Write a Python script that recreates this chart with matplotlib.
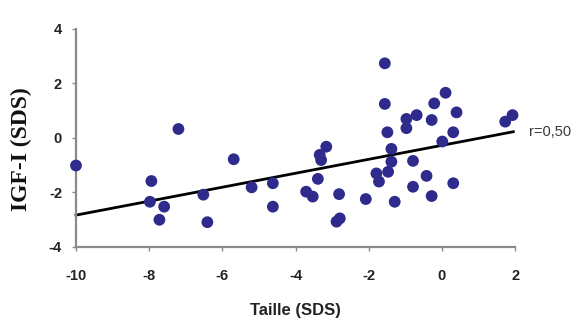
import matplotlib
matplotlib.use("Agg")
import matplotlib.pyplot as plt
import numpy as np

# Data
taille = [-10.0, -7.2, -7.94, -7.98, -7.59, -7.72, -6.52, -6.41, -5.69, -5.2, -4.62, -4.62,
          -1.56, -1.56, -1.49, -1.38, -1.38, -1.47, -1.79, -1.72, -1.29, -2.08, -2.81, -2.79,
          -2.88, -3.16, -3.34, -3.30, -3.39, -3.71, -3.53, -0.97, -0.69, -0.97, -0.28, -0.21,
          0.10, 0.40, 0.31, 0.01, -0.79, -0.42, -0.79, -0.28, 0.31, 1.73, 1.93]
igf = [-1.01, 0.33, -1.58, -2.34, -2.52, -3.0, -2.08, -3.09, -0.78, -1.81, -1.66, -2.52,
       2.74, 1.25, 0.21, -0.40, -0.87, -1.24, -1.30, -1.60, -2.34, -2.24, -2.06, -2.95,
       -3.07, -0.32, -0.62, -0.81, -1.50, -1.97, -2.15, 0.70, 0.84, 0.36, 0.66, 1.27,
       1.66, 0.94, 0.21, -0.13, -0.84, -1.39, -1.79, -2.13, -1.66, 0.60, 0.84]

fit_slope = 0.256
fit_intercept = -0.27
fit_range = [-10.0, 1.95]
r_label = "r=0,50"

xticks = [-10, -8, -6, -4, -2, 0, 2]
yticks = [-4, -2, 0, 2, 4]

fig = plt.figure(figsize=(5.77, 3.25), dpi=100)
ax = fig.add_axes([0.1317, 0.24, 0.761, 0.6708])

ax.scatter(taille, igf, s=72, color="#2E2B8C", edgecolors="none", zorder=3, clip_on=False)
fx = np.array(fit_range)
ax.plot(fx, fit_slope * fx + fit_intercept, color="black", lw=2.0, zorder=2, clip_on=False)
ax.text(fx[-1] + 0.42, fit_slope * fx[-1] + fit_intercept, r_label, fontsize=10.5,
        family="Liberation Sans", color="#3a3a3a", va="center", ha="left", clip_on=False)

ax.set_xlim(-10, 2)
ax.set_ylim(-4, 4)
ax.set_xticks(xticks)
ax.set_yticks(yticks)
ax.set_xticklabels([str(t) for t in xticks], fontsize=10.5, fontweight="bold",
                   family="Liberation Sans", color="#222222")
ax.set_yticklabels([str(t) for t in yticks], fontsize=10.5, fontweight="bold",
                   family="Liberation Sans", color="#222222")

for side in ["top", "right"]:
    ax.spines[side].set_visible(False)
for side in ["left", "bottom"]:
    ax.spines[side].set_color("#8a8a8a")
    ax.spines[side].set_linewidth(1.6)
ax.tick_params(axis="x", direction="out", length=3, width=1.0, color="#8a8a8a", pad=13)
ax.tick_params(axis="y", direction="out", length=3, width=1.0, color="#8a8a8a", pad=7)

ax.set_xlabel("Taille (SDS)", fontsize=12, fontweight="bold", family="Liberation Sans",
              color="#222222", va="center")
ax.xaxis.set_label_coords(0.5, -0.289)
ax.set_ylabel("IGF-I (SDS)", fontsize=17, fontweight="bold", family="Liberation Serif",
              color="#111111", va="center")
ax.yaxis.set_label_coords(-0.125, 0.45)

fig.savefig("out.png", dpi=100)
